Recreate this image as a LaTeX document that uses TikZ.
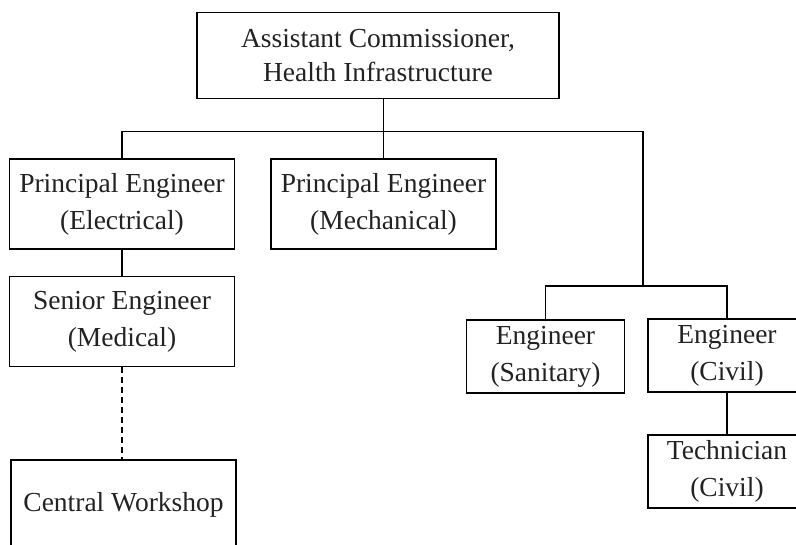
\documentclass[tikz,border=0pt]{standalone}
\usepackage{fontspec}
\setmainfont{Liberation Serif}
\usepackage{tikz}
\definecolor{inkgray}{RGB}{34, 34, 34}

\begin{document}
\begin{tikzpicture}[x=1pt, y=-1pt, line width=1.5pt,
    post/.style={draw=black, align=center, inner sep=0pt, text=inkgray,
                 font=\fontsize{27.5}{37}\selectfont},
    postw/.style={post, minimum width=225pt, minimum height=90pt},
    posts/.style={post, minimum width=158pt, minimum height=73pt}]
            % Frame, the picture is cut at the right and bottom edges
            \useasboundingbox                                  (0, 0) rectangle (796, 545);
            \clip                                              (0, 0) rectangle (796, 545);
            % Head
            \node[post, minimum width=362pt, minimum height=86pt,
                  font=\fontsize{27.5}{34}\selectfont] (head) at (378, 55.5)
                 {Assistant Commissioner,\\Health Infrastructure};
            % Left column
            \node[postw] (elec)   at (122.0, 204.0) {Principal Engineer\\(Electrical)};
            \node[postw] (senior) at (122.0, 321.5) {Senior Engineer\\(Medical)};
            \node[postw] (works)  at (123.5, 505.0) {Central Workshop};
            % Middle
            \node[postw] (mech)   at (383.5, 204.0) {Principal Engineer\\(Mechanical)};
            % Right branch
            \node[posts] (sanit)  at (545.5, 356.5) {Engineer\\(Sanitary)};
            \node[posts] (civil)  at (727.0, 355.5) {Engineer\\(Civil)};
            \node[posts] (tech)   at (727.0, 471.5) {Technician\\(Civil)};
            % Connectors
            \coordinate (bar)  at (643, 131.5);
            \coordinate (drop) at (643, 286.0);
            \draw (head.south -| mech.north) -- (mech.north);
            \draw (elec.north) |- (bar) -- (drop);
            \draw (elec.south) -- (senior.north);
            \draw[dash pattern=on 6pt off 4pt] (senior.south) -- (senior.south |- works.north);
            \draw (sanit.north) |- (civil.north |- drop) -- (civil.north);
            \draw (civil.south) -- (tech.north);
\end{tikzpicture}
\end{document}
